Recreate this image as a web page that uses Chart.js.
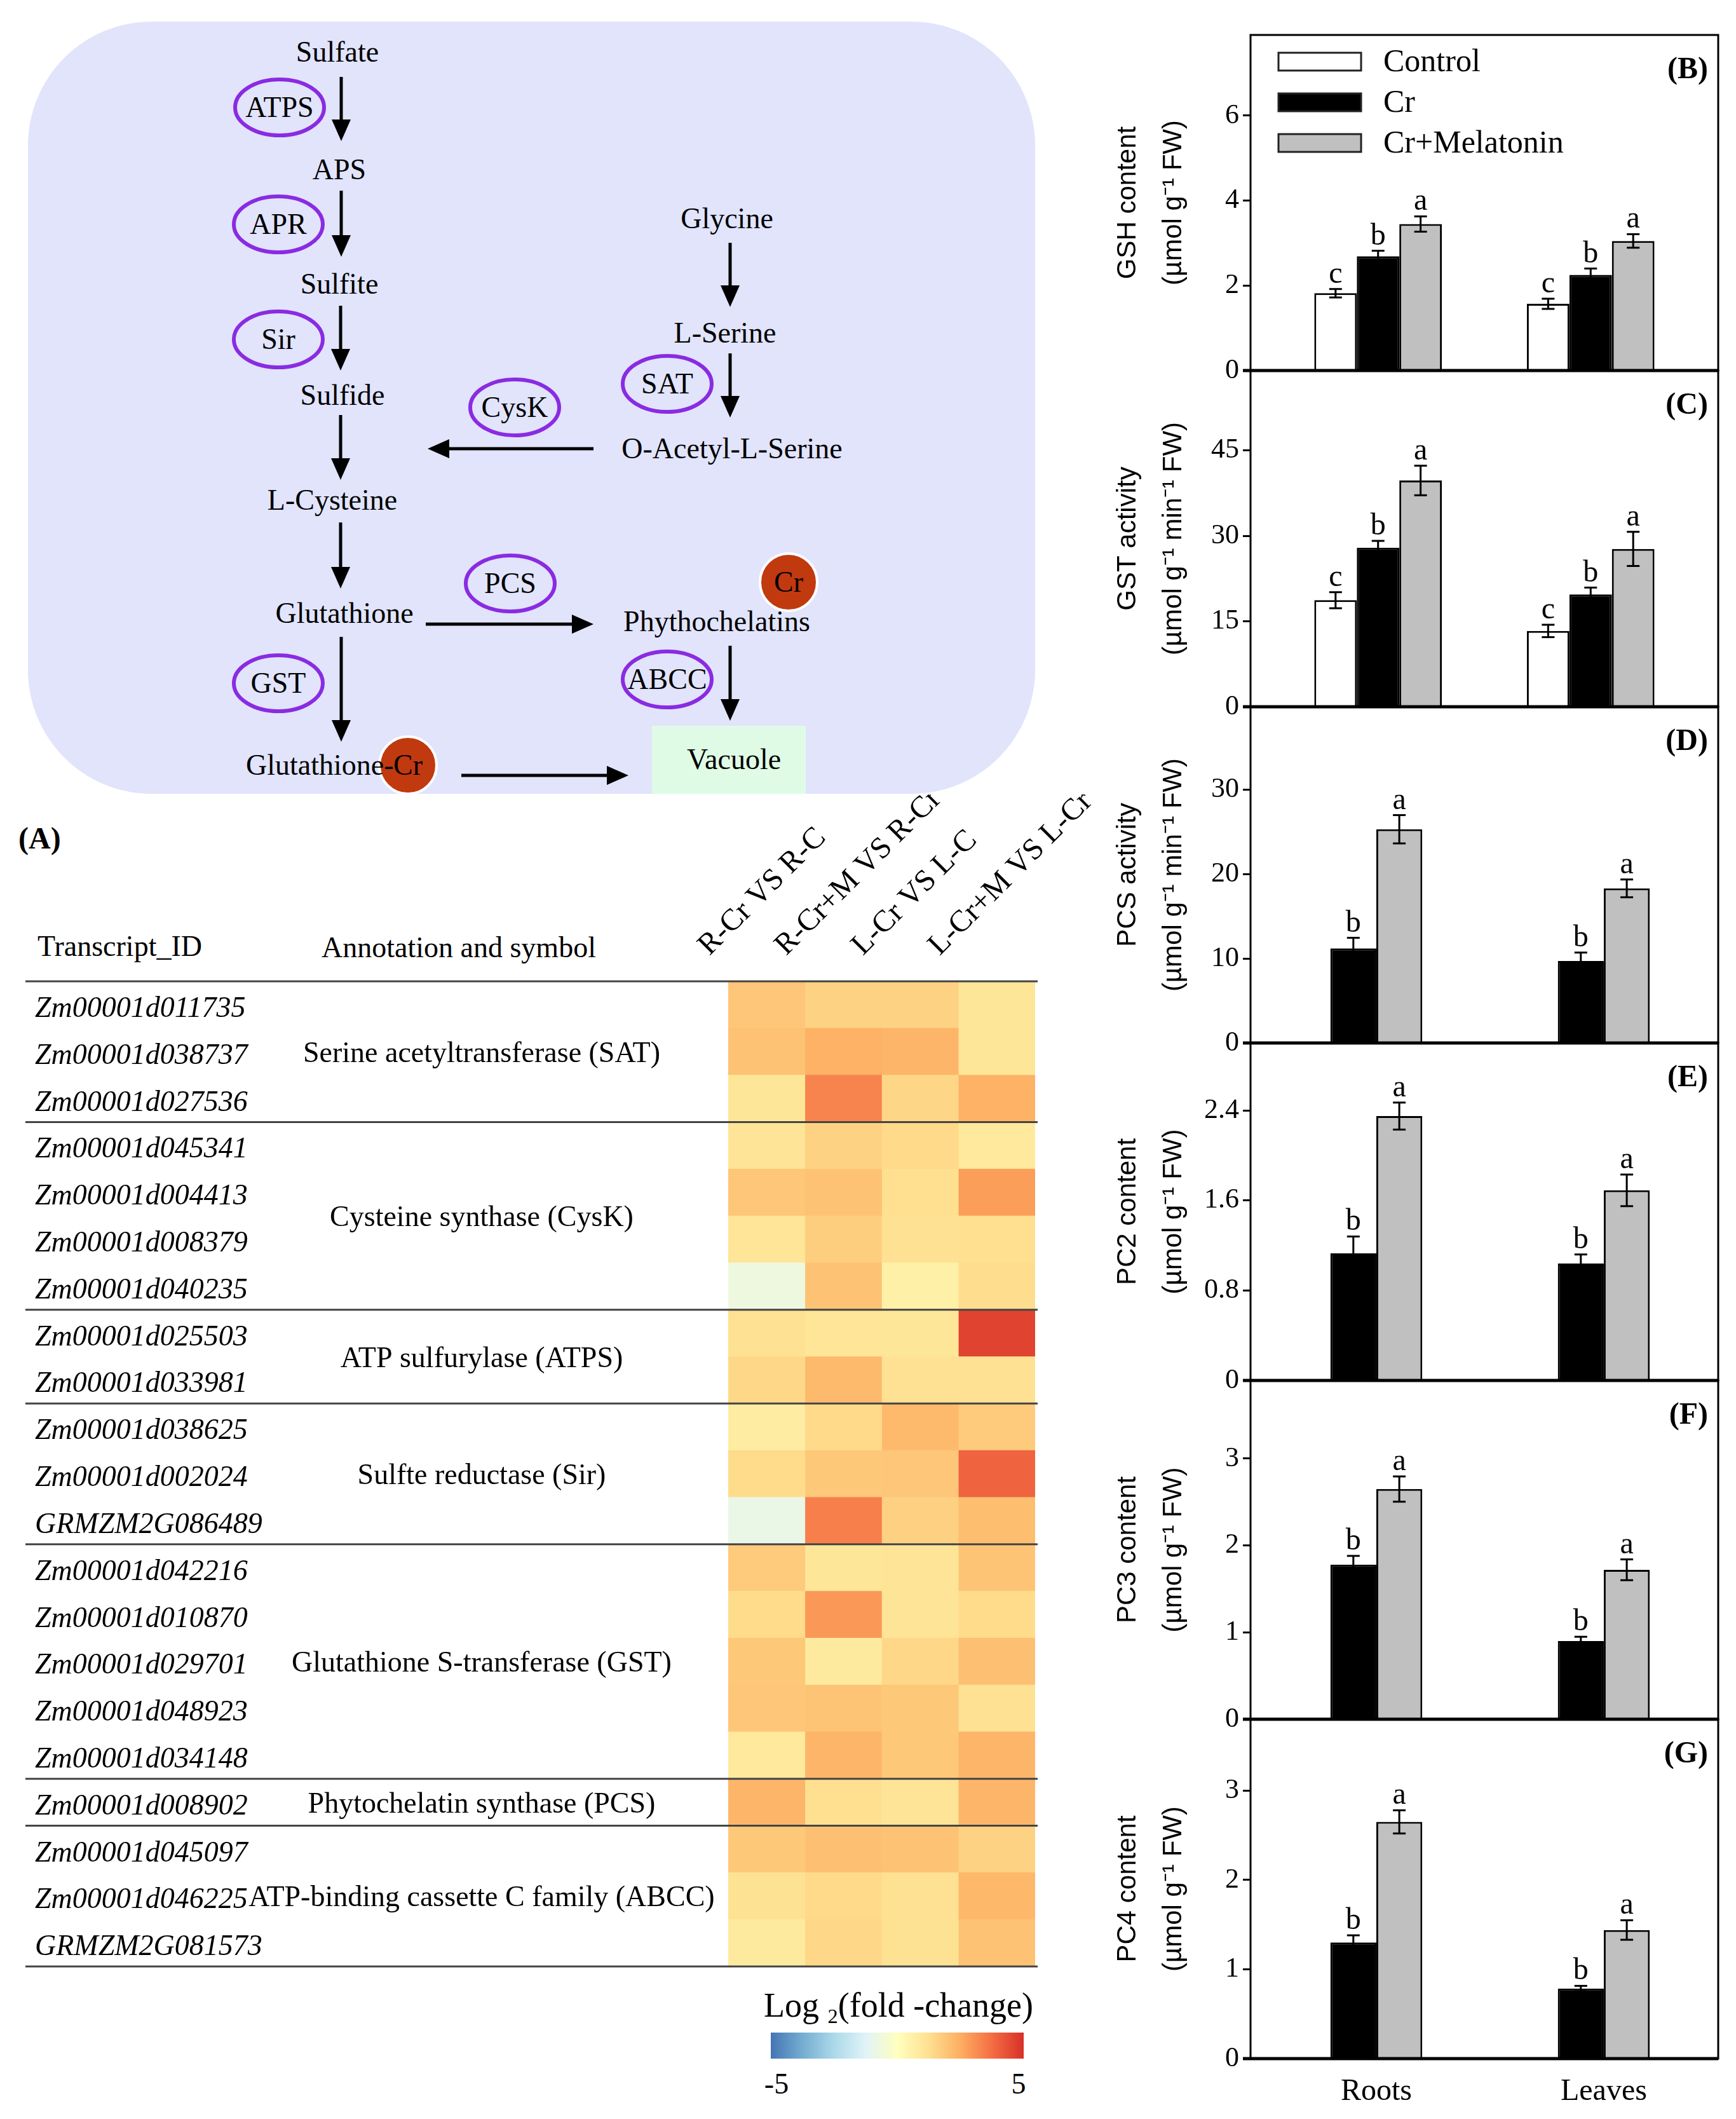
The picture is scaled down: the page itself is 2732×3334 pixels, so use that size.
<!DOCTYPE html>
<html><head><meta charset="utf-8">
<script src="https://cdn.jsdelivr.net/npm/chart.js@4.4.1/dist/chart.umd.min.js"></script>
<style>
html,body{margin:0;padding:0;background:#fff;}
body{width:2732px;height:3334px;position:relative;overflow:hidden;font-family:'Liberation Serif',serif;}
canvas{position:absolute;}
svg{position:absolute;left:0;top:0;}
.t{position:absolute;white-space:nowrap;font-family:'Liberation Serif',serif;color:#000;line-height:1;transform:translate(-50%,-50%);}
.tl{position:absolute;white-space:nowrap;font-family:'Liberation Serif',serif;color:#000;line-height:1;transform:translateY(-50%);}
</style></head><body>
<svg id="path" width="1700" height="1262" viewBox="0 0 1700 1262"></svg>
<div class="tl" style="left:29px;top:1319px;font-size:48px;font-weight:bold;">(A)</div>
<div class="tl" style="left:59px;top:1489px;font-size:46px;">Transcript_ID</div>
<div class="t" style="left:722px;top:1491px;font-size:46px;">Annotation and symbol</div>
<canvas id="heat" width="1760" height="1864" style="left:0;top:1250px;width:1760px;height:1864px;"></canvas>
<div class="t" style="left:1414px;top:3158px;font-size:54px;">Log <span style="font-size:0.6em;vertical-align:-0.3em;">2</span>(fold -change)</div>
<div id="cbar" style="position:absolute;left:1213px;top:3198px;width:398px;height:41px;"></div>
<div class="t" style="left:1222px;top:3279px;font-size:46px;">-5</div>
<div class="t" style="left:1603px;top:3279px;font-size:46px;">5</div>
<canvas id="pB"></canvas><canvas id="pC"></canvas><canvas id="pD"></canvas>
<canvas id="pE"></canvas><canvas id="pF"></canvas><canvas id="pG"></canvas>
<script>
// ---------------- DATA ----------------
const organs = ['Roots', 'Leaves'];
const treatments = ['Control', 'Cr', 'Cr+Melatonin'];

const gshControl = [1.82, 1.57], gshCr = [2.69, 2.25], gshCrMel = [3.45, 3.05];
const gshControlSE = [0.10, 0.12], gshCrSE = [0.13, 0.15], gshCrMelSE = [0.18, 0.16];
const gshLetters = [['c', 'c'], ['b', 'b'], ['a', 'a']];

const gstControl = [18.7, 13.3], gstCr = [27.9, 19.7], gstCrMel = [39.7, 27.7];
const gstControlSE = [1.4, 1.1], gstCrSE = [1.2, 1.2], gstCrMelSE = [2.6, 3.0];
const gstLetters = [['c', 'c'], ['b', 'b'], ['a', 'a']];

const pcsCr = [11.2, 9.7], pcsCrMel = [25.3, 18.3];
const pcsCrSE = [1.25, 1.0], pcsCrMelSE = [1.67, 1.05];
const pc2Cr = [1.13, 1.04], pc2CrMel = [2.35, 1.69];
const pc2CrSE = [0.15, 0.08], pc2CrMelSE = [0.12, 0.14];
const pc3Cr = [1.78, 0.90], pc3CrMel = [2.65, 1.72];
const pc3CrSE = [0.10, 0.05], pc3CrMelSE = [0.145, 0.12];
const pc4Cr = [1.30, 0.785], pc4CrMel = [2.65, 1.44];
const pc4CrSE = [0.08, 0.03], pc4CrMelSE = [0.13, 0.11];
const pcLetters = [['b', 'b'], ['a', 'a']];

const yTitles = {
  B: ['GSH content', '(\u00b5mol g\u207b\u00b9 FW)'],
  C: ['GST activity', '(\u00b5mol g\u207b\u00b9 min\u207b\u00b9 FW)'],
  D: ['PCS activity', '(\u00b5mol g\u207b\u00b9 min\u207b\u00b9 FW)'],
  E: ['PC2 content', '(\u00b5mol g\u207b\u00b9 FW)'],
  F: ['PC3 content', '(\u00b5mol g\u207b\u00b9 FW)'],
  G: ['PC4 content', '(\u00b5mol g\u207b\u00b9 FW)']
};

// heatmap
const comparisons = ['R-Cr VS R-C', 'R-Cr+M VS R-Cr', 'L-Cr VS L-C', 'L-Cr+M VS L-Cr'];
const transcripts = ['Zm00001d011735','Zm00001d038737','Zm00001d027536',
  'Zm00001d045341','Zm00001d004413','Zm00001d008379','Zm00001d040235',
  'Zm00001d025503','Zm00001d033981',
  'Zm00001d038625','Zm00001d002024','GRMZM2G086489',
  'Zm00001d042216','Zm00001d010870','Zm00001d029701','Zm00001d048923','Zm00001d034148',
  'Zm00001d008902',
  'Zm00001d045097','Zm00001d046225','GRMZM2G081573'];
const geneFamilies = ['Serine acetyltransferase (SAT)','Cysteine synthase (CysK)','ATP sulfurylase (ATPS)',
  'Sulfte reductase (Sir)','Glutathione S-transferase (GST)','Phytochelatin synthase (PCS)','ATP-binding cassette C family (ABCC)'];
const familySizes = [3, 4, 2, 3, 5, 1, 3];
const rCrVsRC   = [1.9, 2.0, 1.0, 1.1, 1.9, 1.05, -0.7, 1.2, 1.45, 0.75, 1.35, -0.85, 1.8, 1.35, 1.85, 1.9, 0.9, 2.3, 1.85, 1.15, 0.85];
const rCrMVsRCr = [1.6, 2.4, 3.3, 1.6, 2.0, 1.7, 2.0, 1.05, 2.2, 1.4, 1.85, 3.4, 1.0, 2.9, 0.85, 1.95, 2.3, 1.25, 2.05, 1.4, 1.45];
const lCrVsLC   = [1.6, 2.3, 1.5, 1.4, 1.25, 1.2, 0.6, 1.0, 1.2, 2.2, 1.9, 1.65, 1.1, 1.1, 1.45, 1.85, 1.85, 1.1, 2.0, 1.2, 1.15];
const lCrMVsLCr = [1.0, 1.0, 2.4, 0.9, 2.8, 1.25, 1.3, 4.6, 1.2, 1.8, 3.95, 2.1, 1.95, 1.35, 2.05, 1.2, 2.3, 2.3, 1.6, 2.25, 2.0];
const colorbarTicks = [-5, 5];

// ---------------- COLOURS ----------------
const palette = ['#4575b4','#74add1','#abd9e9','#e0f3f8','#ffffbf','#fee090','#fdae61','#f46d43','#d73027'];
function hex2rgb(h){return [parseInt(h.slice(1,3),16),parseInt(h.slice(3,5),16),parseInt(h.slice(5,7),16)];}
function colorFor(v){
  const lo = colorbarTicks[0], hi = colorbarTicks[1];
  const t = (Math.max(lo, Math.min(hi, v)) - lo) / (hi - lo) * (palette.length - 1);
  const i = Math.min(Math.floor(t), palette.length - 2), f = t - i;
  const a = hex2rgb(palette[i]), b = hex2rgb(palette[i + 1]);
  const c = a.map((x, k) => Math.round(x + (b[k] - x) * f));
  return 'rgb(' + c.join(',') + ')';
}
document.getElementById('cbar').style.background = 'linear-gradient(to right,' + palette.join(',') + ')';

Chart.defaults.font.family = "'Liberation Serif', serif";
Chart.defaults.color = '#000';

// ---------------- PATHWAY DIAGRAM ----------------
(function drawPathway(){
  const NS = 'http://www.w3.org/2000/svg';
  const svg = document.getElementById('path');
  function el(tag, attrs){const e = document.createElementNS(NS, tag); for (const k in attrs) e.setAttribute(k, attrs[k]); svg.appendChild(e); return e;}
  function txt(s, x, y, anchor){const e = el('text', {x: x, y: y + 15, 'text-anchor': anchor || 'middle', 'font-family': 'Liberation Serif', 'font-size': 46, fill: '#000'}); e.textContent = s; return e;}
  function arrow(x1, y1, x2, y2){
    const dx = x2 - x1, dy = y2 - y1, L = Math.hypot(dx, dy), ux = dx / L, uy = dy / L;
    const hl = 34, hw = 15;
    const bx = x2 - ux * hl, by = y2 - uy * hl;
    el('line', {x1: x1, y1: y1, x2: bx + ux * 2, y2: by + uy * 2, stroke: '#000', 'stroke-width': 5});
    el('polygon', {points: [x2 + ',' + y2, (bx - uy * hw) + ',' + (by + ux * hw), (bx + uy * hw) + ',' + (by - ux * hw)].join(' '), fill: '#000'});
  }
  function enzyme(s, x, y){el('ellipse', {cx: x, cy: y, rx: 70, ry: 44, fill: 'none', stroke: '#8a2be2', 'stroke-width': 6}); txt(s, x, y);}
  function crDot(x, y){el('circle', {cx: x, cy: y, r: 45, fill: '#c1390f', stroke: '#fff', 'stroke-width': 4}); txt('Cr', x, y);}
  el('rect', {x: 44, y: 34, width: 1585, height: 1215, rx: 195, ry: 195, fill: '#e1e4fb'});
  el('rect', {x: 1026, y: 1142, width: 242, height: 107, fill: '#dffbe5'});
  txt('Sulfate', 531, 82); txt('APS', 534, 267); txt('Sulfite', 534, 447); txt('Sulfide', 539, 622);
  txt('L-Cysteine', 523, 787); txt('Glutathione', 542, 965);
  txt('Glycine', 1144, 344); txt('L-Serine', 1141, 524); txt('O-Acetyl-L-Serine', 1152, 706);
  txt('Phythochelatins', 1128, 978); txt('Vacuole', 1155, 1195);
  el('circle', {cx: 642, cy: 1204, r: 45, fill: '#c1390f', stroke: '#fff', 'stroke-width': 4});
  txt('Glutathione-', 387, 1204, 'start'); txt('Cr', 642, 1204);
  crDot(1241, 916);
  arrow(537, 121, 537, 222); arrow(537, 300, 537, 404); arrow(536, 481, 536, 583);
  arrow(536, 653, 536, 755); arrow(536, 822, 536, 926); arrow(537, 1002, 537, 1167);
  arrow(1149, 382, 1149, 483); arrow(1149, 556, 1149, 657); arrow(1149, 1016, 1149, 1134);
  arrow(934, 706, 673, 706); arrow(670, 982, 934, 982); arrow(726, 1220, 989, 1220);
  enzyme('ATPS', 440, 169); enzyme('APR', 438, 353); enzyme('Sir', 438, 534); enzyme('GST', 438, 1075);
  enzyme('CysK', 810, 641); enzyme('SAT', 1050, 604); enzyme('PCS', 803, 918); enzyme('ABCC', 1050, 1069);
})();

// ---------------- HEATMAP ----------------
const heatColumns = [rCrVsRC, rCrMVsRCr, lCrVsLC, lCrMVsLCr];
const heatDecor = {
  id: 'heatDecor',
  afterDraw(chart){
    const ctx = chart.ctx, y = chart.scales.y, ca = chart.chartArea;
    ctx.save();
    ctx.strokeStyle = '#444'; ctx.lineWidth = 3;
    const hline = (yy) => {ctx.beginPath(); ctx.moveTo(40, yy); ctx.lineTo(1633, yy); ctx.stroke();};
    hline(ca.top);
    ctx.fillStyle = '#000'; ctx.font = "46px 'Liberation Serif'"; ctx.textAlign = 'center'; ctx.textBaseline = 'middle';
    const rowH = y.getPixelForValue(1) - y.getPixelForValue(0);
    let start = 0;
    familySizes.forEach((n, gi) => {
      const end = start + n - 1;
      const yTop = y.getPixelForValue(start) - rowH / 2;
      const yBot = y.getPixelForValue(end) + rowH / 2;
      ctx.fillText(geneFamilies[gi], 758, (yTop + yBot) / 2 + 4);
      hline(yBot);
      start += n;
    });
    ctx.restore();
  }
};
new Chart(document.getElementById('heat'), {
  type: 'bar',
  data: {
    labels: transcripts,
    datasets: heatColumns.map((vals, ci) => ({
      label: comparisons[ci],
      data: vals.map(() => [ci, ci + 1]),
      backgroundColor: vals.map(colorFor),
      borderWidth: 0, barPercentage: 1, categoryPercentage: 1, grouped: false,
      xAxisID: 'x', yAxisID: 'y'
    }))
  },
  options: {
    indexAxis: 'y', responsive: false, animation: false, devicePixelRatio: 1,
    layout: {padding: {left: 55, top: 0, right: 131, bottom: 20}},
    plugins: {legend: {display: false}, tooltip: {enabled: false}},
    scales: {
      x: {type: 'linear', min: 0, max: 4, display: false, offset: false},
      x2: {type: 'category', labels: comparisons, position: 'top', offset: true,
        grid: {display: false, drawTicks: false}, border: {display: false},
        ticks: {autoSkip: false, minRotation: 45, maxRotation: 45, labelOffset: -58, padding: 28, font: {size: 48}, color: '#000'},
        afterFit(s){s.height = 294; s.paddingLeft = 0; s.paddingRight = 0;}},
      y: {type: 'category', grid: {display: false, drawTicks: false}, border: {display: false},
        ticks: {autoSkip: false, crossAlign: 'far', padding: 0, labelOffset: 7, font: {size: 46, style: 'italic'}, color: '#000'},
        afterFit(s){s.width = 1091; s.paddingTop = 0; s.paddingBottom = 0;}}
    }
  },
  plugins: [heatDecor]
});

// ---------------- BAR PANELS ----------------
const fills = {'Control': '#ffffff', 'Cr': '#000000', 'Cr+Melatonin': '#c0c0c0'};
const barDecor = {
  id: 'barDecor',
  afterDatasetsDraw(chart){
    const ctx = chart.ctx, ys = chart.scales.y;
    chart.data.datasets.forEach((ds, di) => {
      const meta = chart.getDatasetMeta(di);
      meta.data.forEach((bar, i) => {
        const v = ds.data[i].y, e = ds.errors[i];
        const yt = ys.getPixelForValue(v + e), yb = ys.getPixelForValue(v - e);
        ctx.save();
        ctx.strokeStyle = '#000'; ctx.lineWidth = 3;
        ctx.beginPath();
        ctx.moveTo(bar.x, yt); ctx.lineTo(bar.x, yb);
        ctx.moveTo(bar.x - 10, yt); ctx.lineTo(bar.x + 10, yt);
        ctx.moveTo(bar.x - 10, yb); ctx.lineTo(bar.x + 10, yb);
        ctx.stroke();
        ctx.fillStyle = '#000'; ctx.font = "48px 'Liberation Serif'"; ctx.textAlign = 'center'; ctx.textBaseline = 'alphabetic';
        ctx.fillText(ds.letters[i], bar.x, yt - 10);
        ctx.restore();
      });
    });
  },
  afterDraw(chart, args, opts){
    const ctx = chart.ctx, ca = chart.chartArea;
    ctx.save();
    ctx.strokeStyle = '#000'; ctx.lineWidth = 3;
    ctx.strokeRect(ca.left, ca.top, ca.right - ca.left, ca.bottom - ca.top);
    ctx.lineWidth = 5;
    ctx.beginPath(); ctx.moveTo(ca.left - 12, ca.bottom); ctx.lineTo(ca.right, ca.bottom); ctx.stroke();
    ctx.fillStyle = '#000'; ctx.font = "bold 48px 'Liberation Serif'"; ctx.textAlign = 'right'; ctx.textBaseline = 'middle';
    ctx.fillText(opts.panel, ca.right - 16, ca.top + 56);
    if (opts.legend) {
      chart.data.datasets.forEach((ds, i) => {
        const cy = ca.top + 42 + i * 64;
        ctx.fillStyle = ds.backgroundColor; ctx.fillRect(ca.left + 44, cy - 14, 130, 28);
        ctx.lineWidth = 3; ctx.strokeStyle = '#222'; ctx.strokeRect(ca.left + 44, cy - 14, 130, 28);
        ctx.fillStyle = '#000'; ctx.font = "50px 'Liberation Serif'"; ctx.textAlign = 'left'; ctx.textBaseline = 'middle';
        ctx.fillText(ds.label, ca.left + 209, cy + 2);
      });
    }
    ctx.restore();
  }
};

function makePanel(id, panel, top, bottom, series, yMax, step, xRange, catPct, showX, legend){
  const cv = document.getElementById(id);
  const h = (bottom - top) + 30 + (showX ? 95 : 30);
  cv.width = 1032; cv.height = h;
  cv.style.left = '1700px'; cv.style.top = (top - 30) + 'px';
  cv.style.width = '1032px'; cv.style.height = h + 'px';
  new Chart(cv, {
    type: 'bar',
    data: {
      datasets: series.map(s => ({
        label: s.name,
        data: organs.map((o, i) => ({x: i + 1, y: s.values[i]})),
        errors: s.errors, letters: s.letters,
        backgroundColor: fills[s.name], borderColor: '#000', borderWidth: 3, borderSkipped: 'bottom',
        barPercentage: 1, categoryPercentage: catPct
      }))
    },
    options: {
      responsive: false, animation: false, devicePixelRatio: 1,
      layout: {padding: {top: 30, bottom: showX ? 0 : 30, left: 0, right: 28}},
      plugins: {legend: {display: false}, tooltip: {enabled: false}, barDecor: {panel: panel, legend: legend}},
      scales: {
        x: {type: 'linear', min: xRange[0], max: xRange[1], offset: false,
          grid: {display: false, drawTicks: false}, border: {display: false},
          afterBuildTicks(s){s.ticks = organs.map((o, i) => ({value: i + 1}));},
          ticks: {display: showX, padding: 24, font: {size: 48}, color: '#000', callback: (v) => organs[Math.round(v) - 1] || ''},
          afterFit(s){s.height = showX ? 95 : 0; s.paddingLeft = 0; s.paddingRight = 0;}},
        y: {min: 0, max: yMax,
          grid: {display: true, drawOnChartArea: false, drawTicks: true, tickLength: 12, tickWidth: 3, tickColor: '#000'},
          border: {display: false},
          ticks: {stepSize: step, includeBounds: false, padding: 6, font: {size: 44}, color: '#000'},
          title: {display: true, text: yTitles[panel.replace(/[()]/g, '')], font: {family: "'Liberation Sans', sans-serif", size: 42, lineHeight: 1.7}, padding: {top: 40, bottom: 0}, color: '#000'},
          afterFit(s){s.width = 268; s.paddingTop = 0; s.paddingBottom = 0;}}
      }
    },
    plugins: [barDecor]
  });
}

const three = [0.4, 2.6], two = [0.447, 2.503];
makePanel('pB', '(B)', 55, 583, [
  {name: treatments[0], values: gshControl, errors: gshControlSE, letters: gshLetters[0]},
  {name: treatments[1], values: gshCr, errors: gshCrSE, letters: gshLetters[1]},
  {name: treatments[2], values: gshCrMel, errors: gshCrMelSE, letters: gshLetters[2]}], 7.9, 2, three, 0.6, false, true);
makePanel('pC', '(C)', 583, 1112, [
  {name: treatments[0], values: gstControl, errors: gstControlSE, letters: gstLetters[0]},
  {name: treatments[1], values: gstCr, errors: gstCrSE, letters: gstLetters[1]},
  {name: treatments[2], values: gstCrMel, errors: gstCrMelSE, letters: gstLetters[2]}], 59, 15, three, 0.6, false, false);
makePanel('pD', '(D)', 1112, 1641, [
  {name: treatments[1], values: pcsCr, errors: pcsCrSE, letters: pcLetters[0]},
  {name: treatments[2], values: pcsCrMel, errors: pcsCrMelSE, letters: pcLetters[1]}], 39.8, 10, two, 0.404, false, false);
makePanel('pE', '(E)', 1641, 2172, [
  {name: treatments[1], values: pc2Cr, errors: pc2CrSE, letters: pcLetters[0]},
  {name: treatments[2], values: pc2CrMel, errors: pc2CrMelSE, letters: pcLetters[1]}], 3.0, 0.8, two, 0.404, false, false);
makePanel('pF', '(F)', 2172, 2705, [
  {name: treatments[1], values: pc3Cr, errors: pc3CrSE, letters: pcLetters[0]},
  {name: treatments[2], values: pc3CrMel, errors: pc3CrMelSE, letters: pcLetters[1]}], 3.9, 1, two, 0.404, false, false);
makePanel('pG', '(G)', 2705, 3239, [
  {name: treatments[1], values: pc4Cr, errors: pc4CrSE, letters: pcLetters[0]},
  {name: treatments[2], values: pc4CrMel, errors: pc4CrMelSE, letters: pcLetters[1]}], 3.8, 1, two, 0.404, true, false);
</script>
</body></html>
